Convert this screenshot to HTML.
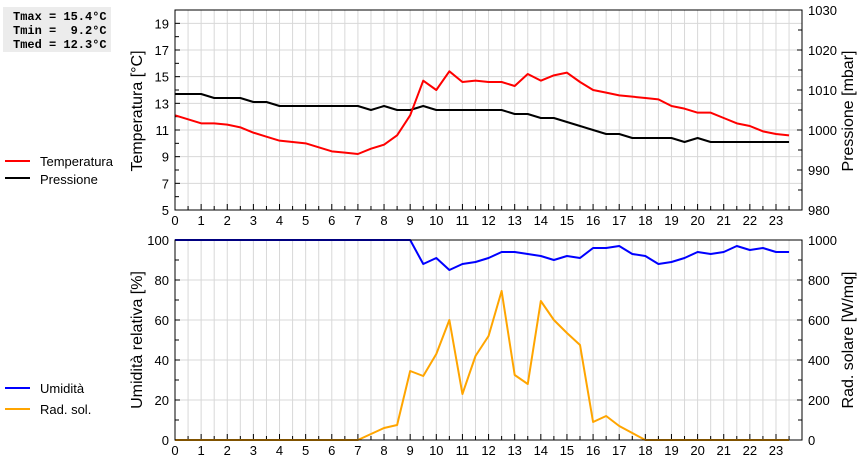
<!DOCTYPE html>
<html><head><meta charset="utf-8"><style>
body{margin:0;background:#fff;width:860px;height:460px;overflow:hidden}
svg{display:block;font-family:"Liberation Sans",sans-serif}
</style></head><body>
<svg id="c" width="860" height="460">
<rect x="3" y="7" width="108" height="45" fill="#ececec"/>
<g font-family="Liberation Mono,monospace" font-weight="bold" font-size="12" fill="#000">
<text x="13" y="20" xml:space="preserve">Tmax = 15.4°C</text>
<text x="13" y="34" xml:space="preserve">Tmin =  9.2°C</text>
<text x="13" y="48" xml:space="preserve">Tmed = 12.3°C</text>
</g>
<g font-size="13">
<line x1="5" y1="161" x2="30" y2="161" stroke="#f00" stroke-width="2"/>
<text x="40" y="166">Temperatura</text>
<line x1="5" y1="178" x2="30" y2="178" stroke="#000" stroke-width="2"/>
<text x="40" y="184">Pressione</text>
<line x1="5" y1="388" x2="30" y2="388" stroke="#00f" stroke-width="2"/>
<text x="40" y="393">Umidità</text>
<line x1="5" y1="409" x2="30" y2="409" stroke="#ffa500" stroke-width="2"/>
<text x="40" y="414">Rad. sol.</text>
</g>
<g font-size="16">
<text transform="translate(142,111) rotate(-90)" text-anchor="middle">Temperatura [°C]</text>
<text transform="translate(853,111) rotate(-90)" text-anchor="middle">Pressione [mbar]</text>
<text transform="translate(142,340) rotate(-90)" text-anchor="middle">Umidità relativa [%]</text>
<text transform="translate(853,340) rotate(-90)" text-anchor="middle">Rad. solare [W/mq]</text>
</g>
</svg>
<script>
const hours=[0,0.5,1,1.5,2,2.5,3,3.5,4,4.5,5,5.5,6,6.5,7,7.5,8,8.5,9,9.5,10,10.5,11,11.5,12,12.5,13,13.5,14,14.5,15,15.5,16,16.5,17,17.5,18,18.5,19,19.5,20,20.5,21,21.5,22,22.5,23,23.5];
const temperature=[12.1,11.8,11.5,11.5,11.4,11.2,10.8,10.5,10.2,10.1,10.0,9.7,9.4,9.3,9.2,9.6,9.9,10.6,12.1,14.7,14.0,15.4,14.6,14.7,14.6,14.6,14.3,15.2,14.7,15.1,15.3,14.6,14.0,13.8,13.6,13.5,13.4,13.3,12.8,12.6,12.3,12.3,11.9,11.5,11.3,10.9,10.7,10.6];
const pressure=[1009,1009,1009,1008,1008,1008,1007,1007,1006,1006,1006,1006,1006,1006,1006,1005,1006,1005,1005,1006,1005,1005,1005,1005,1005,1005,1004,1004,1003,1003,1002,1001,1000,999,999,998,998,998,998,997,998,997,997,997,997,997,997,997];
const humidity=[100,100,100,100,100,100,100,100,100,100,100,100,100,100,100,100,100,100,100,88,91,85,88,89,91,94,94,93,92,90,92,91,96,96,97,93,92,88,89,91,94,93,94,97,95,96,94,94];
const radiation=[0,0,0,0,0,0,0,0,0,0,0,0,0,0,0,30,60,75,345,320,430,600,230,420,520,745,325,280,695,600,535,475,90,120,70,35,0,0,0,0,0,0,0,0,0,0,0,0];
const xTicks=[0,1,2,3,4,5,6,7,8,9,10,11,12,13,14,15,16,17,18,19,20,21,22,23];
const tempTicks=[5,7,9,11,13,15,17,19];
const pressTicks=[980,990,1000,1010,1020,1030];
const humTicks=[0,20,40,60,80,100];
const radTicks=[0,200,400,600,800,1000];

const NS='http://www.w3.org/2000/svg',svg=document.getElementById('c');
const X0=175,X1=802,PX=26.13;
const x=h=>X0+h*PX;
const T={top:10,bot:210},B={top:240,bot:440};
const yT=v=>T.bot-(v-5)*(200/15);
const yP=v=>T.bot-(v-980)*4;
const yH=v=>B.bot-v*2;
const yR=v=>B.bot-v*0.2;
function mk(tag,attrs,parent){const e=document.createElementNS(NS,tag);for(const k in attrs)e.setAttribute(k,attrs[k]);(parent||svg).appendChild(e);return e;}
function panel(P,leftTicks,yl,rightTicks,yr,minorL,minorR,name){
  const g=mk('g',{});
  
  
  for(let h=0.5;h<24;h+=0.5){const l=mk('line',{x1:x(h),x2:x(h),y1:P.top,y2:P.bot,stroke:'#d8d8d8','stroke-width':1},g);
    
    }
  leftTicks.forEach(v=>{const y=yl(v);if(y>P.top+1&&y<P.bot-1){const l=mk('line',{x1:X0,x2:X1,y1:y,y2:y,stroke:'#d8d8d8'},g);
    
    }
    const t=mk('text',{x:X0-6,y:y+5,'text-anchor':'end','font-size':13},g);t.textContent=v;
    
    
    mk('line',{x1:X0,x2:X0+5,y1:y,y2:y,stroke:'#000'},g);});
  minorL.forEach(v=>mk('line',{x1:X0,x2:X0+4,y1:yl(v),y2:yl(v),stroke:'#000'},g));
  rightTicks.forEach(v=>{const y=yr(v);const t=mk('text',{x:X1+6,y:y+5,'font-size':13},g);t.textContent=v;
    
    
    mk('line',{x1:X1-5,x2:X1,y1:y,y2:y,stroke:'#000'},g);});
  minorR.forEach(v=>mk('line',{x1:X1-4,x2:X1,y1:yr(v),y2:yr(v),stroke:'#000'},g));
  for(let h=0;h<24;h+=0.5)mk('line',{x1:x(h),x2:x(h),y1:P.bot,y2:P.bot-(h%1?4:6),stroke:'#000'},g);
  xTicks.forEach(h=>{const t=mk('text',{x:x(h),y:P.bot+15,'text-anchor':'middle','font-size':13},g);t.textContent=h;
    
    });
  return g;
}
function series(vals,yf,color,name,top){
  const pts=hours.map((h,i)=>x(h)+','+yf(vals[i])).join(' ');
  const p=mk('polyline',{points:pts,fill:'none',stroke:color,'stroke-width':2,'stroke-linejoin':'round'});
  
  
}
panel(T,tempTicks,yT,pressTicks,yP,[6,8,10,12,14,16,18],[985,995,1005,1015,1025],'top-panel');
panel(B,humTicks,yH,radTicks,yR,[10,30,50,70,90],[100,300,500,700,900],'bottom-panel');
series(pressure,yP,'#000','pressure-line');
series(temperature,yT,'#f00','temperature-line');
series(radiation,yR,'#ffa500','radiation-line');
series(humidity,yH,'#00f','humidity-line');
[T,B].forEach((P,i)=>{const r=mk('rect',{x:X0,y:P.top,width:X1-X0,height:P.bot-P.top,fill:'none',stroke:'#000'});
  
  });
</script>
</body></html>
